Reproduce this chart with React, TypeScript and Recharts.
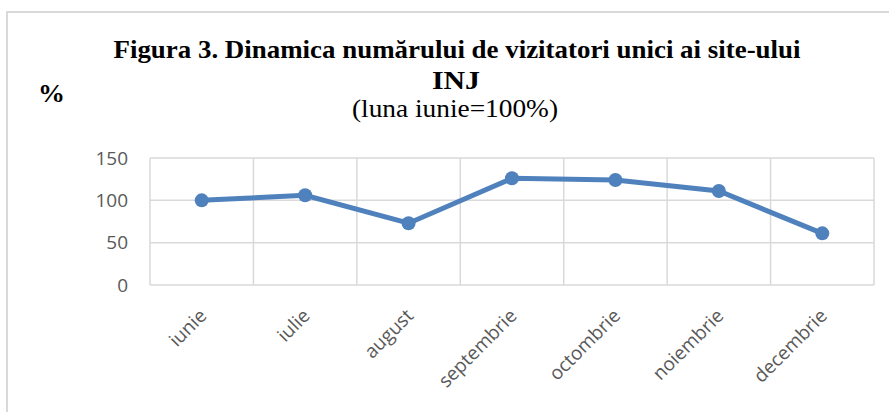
import { LineChart, Line, XAxis, YAxis, CartesianGrid } from 'recharts';

const months = ['iunie', 'iulie', 'august', 'septembrie', 'octombrie', 'noiembrie', 'decembrie'];
const visitors = [100, 106, 73, 126, 124, 111, 61];
const yTicks = [0, 50, 100, 150];

const data = months.map((month, i) => ({ month, value: visitors[i] }));

const BLUE = '#4f81bd';
const GRID = '#d9d9d9';
const LABEL = '#595959';
const SERIF = 'Liberation Serif, Times New Roman, serif';

const MonthTick = ({ x, y, payload }: any) => (
  <text
    transform={`translate(${x + 6},${y + 30}) rotate(-45)`}
    textAnchor="end"
    fill={LABEL}
    fontSize={19}
    fontFamily="Open Sans, sans-serif"
  >
    {payload.value}
  </text>
);

// grid lines sit on the category boundaries, like Excel does
const boundaryLines = ({ offset }: any) => {
  const step = offset.width / months.length;
  return months.map((_, i) => offset.left + i * step).concat(offset.left + offset.width);
};

const App = () => {
  return (
    <div style={{ position: 'relative', width: 889, height: 412, background: '#fff' }}>
      <style>{'body{margin:0}'}</style>
      <LineChart
        width={889}
        height={412}
        data={data}
        margin={{ top: 158, right: 15, left: 80, bottom: 0 }}
      >
        <CartesianGrid stroke={GRID} strokeWidth={1.5} verticalCoordinatesGenerator={boundaryLines} />
        <XAxis
          dataKey="month"
          scale="band"
          height={127}
          axisLine={false}
          tickLine={false}
          tickSize={0}
          interval={0}
          tick={<MonthTick />}
        />
        <YAxis
          width={70}
          domain={[0, 150]}
          ticks={yTicks}
          axisLine={false}
          tickLine={false}
          tickSize={0}
          tickMargin={22}
          tick={{ fill: LABEL, fontSize: 19, fontFamily: 'Open Sans, sans-serif' }}
        />
        <Line
          type="linear"
          dataKey="value"
          stroke={BLUE}
          strokeWidth={5}
          dot={{ r: 7, fill: BLUE, stroke: BLUE, strokeWidth: 0 }}
          isAnimationActive={false}
        />
      </LineChart>
      <svg
        width={889}
        height={412}
        style={{ position: 'absolute', left: 0, top: 0, pointerEvents: 'none', fontFamily: SERIF }}
      >
        <rect x={7} y={12} width={900} height={420} fill="none" stroke={GRID} strokeWidth={2} />
        <text x={457} y={58} textAnchor="middle" fontSize={26} fontWeight="bold" textLength={687} lengthAdjust="spacingAndGlyphs">
          Figura 3. Dinamica numărului de vizitatori unici ai site-ului
        </text>
        <text x={456} y={89} textAnchor="middle" fontSize={26} fontWeight="bold" textLength={48} lengthAdjust="spacingAndGlyphs">
          INJ
        </text>
        <text x={455} y={117} textAnchor="middle" fontSize={25} textLength={206} lengthAdjust="spacingAndGlyphs">
          (luna iunie=100%)
        </text>
        <text x={38} y={102} fontSize={26} fontWeight="bold" textLength={27} lengthAdjust="spacingAndGlyphs">
          %
        </text>
      </svg>
    </div>
  );
};

export default App;
